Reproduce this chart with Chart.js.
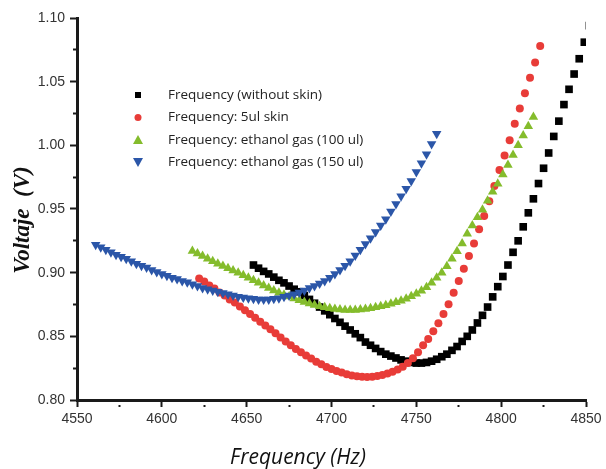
<!DOCTYPE html>
<html>
<head>
<meta charset="utf-8">
<script src="https://cdn.jsdelivr.net/npm/chart.js@4.4.0/dist/chart.umd.min.js"></script>
<style>
  html, body { margin: 0; padding: 0; background: #fff; }
  canvas { display: block; }
</style>
</head>
<body>
<canvas id="chart" width="606" height="469"></canvas>
<script>
// series (Hz, V)
const labels = [
  'Frequency (without skin)',
  'Frequency: 5ul skin',
  'Frequency: ethanol gas (100 ul)',
  'Frequency: ethanol gas (150 ul)'
];

const freqNoSkin = [4654,4657,4660,4663,4666,4669,4672,4675,4678,4681,4684,4687,4690,4693,4696,4699,4702,4705,4708,4711,4714,4717,4720,4723,4726,4729,4732,4735,4738,4741,4744,4747,4750,4753,4756,4759,4762,4765,4768,4771,4774,4777,4780,4783,4786,4789,4792,4795,4798,4801,4804,4807,4810,4813,4816,4819,4822,4825,4828,4831,4834,4837,4840,4843,4846,4849,4852];
const voltNoSkin = [0.906,0.9035,0.901,0.899,0.8965,0.894,0.892,0.8895,0.887,0.885,0.882,0.879,0.876,0.873,0.870,0.867,0.864,0.861,0.858,0.855,0.852,0.849,0.8455,0.843,0.8405,0.838,0.836,0.8345,0.833,0.8315,0.8305,0.8295,0.829,0.829,0.8295,0.8305,0.832,0.834,0.836,0.839,0.842,0.846,0.850,0.855,0.8605,0.8665,0.873,0.881,0.889,0.897,0.906,0.916,0.925,0.936,0.947,0.958,0.970,0.982,0.994,1.007,1.019,1.032,1.044,1.056,1.068,1.081,1.094];

const freqSkin = [4622,4625,4628,4631,4634,4637,4640,4643,4646,4649,4652,4655,4658,4661,4664,4667,4670,4673,4676,4679,4682,4685,4688,4691,4694,4697,4700,4703,4706,4709,4712,4715,4718,4721,4724,4727,4730,4733,4736,4739,4742,4745,4748,4751,4754,4757,4760,4763,4766,4769,4772,4775,4778,4781,4784,4787,4790,4793,4796,4799,4802,4805,4808,4811,4814,4817,4820,4823];
const voltSkin = [0.8955,0.893,0.890,0.8875,0.8845,0.882,0.879,0.8765,0.8735,0.8705,0.8675,0.8645,0.8615,0.8585,0.8555,0.8525,0.849,0.846,0.843,0.840,0.8375,0.835,0.8325,0.830,0.828,0.826,0.8243,0.8228,0.8215,0.8203,0.8193,0.8186,0.8182,0.8181,0.8183,0.8188,0.8197,0.8208,0.8222,0.824,0.8262,0.829,0.8328,0.8375,0.843,0.848,0.854,0.8603,0.8676,0.8752,0.8842,0.8935,0.903,0.913,0.923,0.934,0.9445,0.956,0.968,0.9806,0.992,1.004,1.017,1.029,1.041,1.053,1.065,1.078];

const freqGas100 = [4618,4621,4624,4627,4630,4633,4636,4639,4642,4645,4648,4651,4654,4657,4660,4663,4666,4669,4672,4675,4678,4681,4684,4687,4690,4693,4696,4699,4702,4705,4708,4711,4714,4717,4720,4723,4726,4729,4732,4735,4738,4741,4744,4747,4750,4753,4756,4759,4762,4765,4768,4771,4774,4777,4780,4783,4786,4789,4792,4795,4798,4801,4804,4807,4810,4813,4816,4819];
const voltGas100 = [0.917,0.915,0.913,0.911,0.909,0.907,0.9052,0.9035,0.9017,0.900,0.898,0.896,0.894,0.892,0.890,0.888,0.886,0.8843,0.8827,0.8812,0.8797,0.8783,0.877,0.8758,0.8747,0.8737,0.8728,0.872,0.8714,0.871,0.8707,0.8706,0.8707,0.871,0.8715,0.8721,0.8728,0.8736,0.8745,0.8755,0.8768,0.878,0.8795,0.8815,0.8835,0.8858,0.8885,0.892,0.896,0.900,0.905,0.911,0.9168,0.923,0.9305,0.937,0.9435,0.9495,0.9565,0.9635,0.9698,0.977,0.9845,0.9925,1.000,1.0078,1.015,1.0222];

const freqGas150 = [4561,4564,4567,4570,4573,4576,4579,4582,4585,4588,4591,4594,4597,4600,4603,4606,4609,4612,4615,4618,4621,4624,4627,4630,4633,4636,4639,4642,4645,4648,4651,4654,4657,4660,4663,4666,4669,4672,4675,4678,4681,4684,4687,4690,4693,4696,4699,4702,4705,4708,4711,4714,4717,4720,4723,4726,4729,4732,4735,4738,4741,4744,4747,4750,4753,4756,4759,4762];
const voltGas150 = [0.922,0.920,0.918,0.916,0.914,0.9125,0.911,0.909,0.907,0.9055,0.904,0.902,0.9005,0.899,0.8975,0.896,0.895,0.8935,0.8925,0.891,0.8895,0.888,0.887,0.886,0.885,0.884,0.883,0.882,0.881,0.8805,0.880,0.8795,0.879,0.879,0.879,0.8795,0.880,0.881,0.882,0.883,0.8845,0.886,0.888,0.8895,0.8915,0.8935,0.896,0.899,0.902,0.9055,0.909,0.9135,0.918,0.9225,0.927,0.932,0.937,0.942,0.948,0.954,0.960,0.966,0.972,0.979,0.986,0.993,1.001,1.009];

const colors = ['#000000', '#e83c38', '#84bc2c', '#2b56a8'];

function toPoints(xs, ys) {
  return xs.map((x, i) => ({ x: x, y: ys[i] }));
}

// marker shapes for legend
function marker(ctx, kind, x, y, color) {
  ctx.fillStyle = color;
  ctx.beginPath();
  if (kind === 'rect') {
    ctx.rect(x - 3, y - 3, 6, 6);
  } else if (kind === 'circle') {
    ctx.arc(x, y, 3.5, 0, Math.PI * 2);
  } else if (kind === 'up') {
    ctx.moveTo(x, y - 5); ctx.lineTo(x + 5, y + 4); ctx.lineTo(x - 5, y + 4);
  } else {
    ctx.moveTo(x, y + 5); ctx.lineTo(x + 5, y - 4); ctx.lineTo(x - 5, y - 4);
  }
  ctx.closePath();
  ctx.fill();
}

const extras = {
  id: 'extras',
  afterDraw(chart) {
    const ctx = chart.ctx;
    ctx.save();
    // legend
    const kinds = ['rect', 'circle', 'up', 'down'];
    const rowsY = [95, 117.5, 140, 162];
    ctx.font = '13.5px "Open Sans"';
    ctx.textBaseline = 'middle';
    ctx.textAlign = 'left';
    labels.forEach((t, i) => {
      marker(ctx, kinds[i], 138, rowsY[i], colors[i]);
      ctx.fillStyle = '#222';
      ctx.fillText(t, 168, rowsY[i]);
    });
    // x title
    ctx.font = 'italic 21px "Open Sans"';
    ctx.fillStyle = '#111';
    ctx.textAlign = 'center';
    ctx.textBaseline = 'alphabetic';
    ctx.fillText('Frequency (Hz)', 298, 464);
    // y title
    ctx.translate(29, 220);
    ctx.rotate(-Math.PI / 2);
    ctx.font = 'italic bold 23px "Liberation Serif"';
    ctx.fillText('Voltaje  (V)', 0, 0);
    ctx.restore();
  }
};

const tickFont = { family: '"Liberation Sans", Arial', size: 14 };
const axisColor = '#1a1a1a';

new Chart(document.getElementById('chart'), {
  type: 'scatter',
  data: {
    datasets: [
      { label: labels[0], data: toPoints(freqNoSkin, voltNoSkin), pointStyle: 'rect', pointRadius: 5.4, backgroundColor: colors[0], borderWidth: 0, order: 3 },
      { label: labels[1], data: toPoints(freqSkin, voltSkin), pointStyle: 'circle', pointRadius: 4, backgroundColor: colors[1], borderWidth: 0, order: 2 },
      { label: labels[2], data: toPoints(freqGas100, voltGas100), pointStyle: 'triangle', pointRadius: 5.5, backgroundColor: colors[2], borderWidth: 0, order: 1 },
      { label: labels[3], data: toPoints(freqGas150, voltGas150), pointStyle: 'triangle', rotation: 180, pointRadius: 5.5, backgroundColor: colors[3], borderWidth: 0, order: 0 }
    ]
  },
  options: {
    responsive: false,
    animation: false,
    devicePixelRatio: 1,
    layout: { padding: { left: 0, right: 20, top: 18, bottom: 0 } },
    plugins: { legend: { display: false }, tooltip: { enabled: false } },
    scales: {
      x: {
        type: 'linear',
        min: 4550, max: 4850,
        afterFit: s => { s.height = 69; },
        ticks: {
          stepSize: 25, autoSkip: false, maxRotation: 0, padding: 4,
          color: '#333', font: tickFont,
          callback: (v, i) => (i % 2 ? '' : String(v))
        },
        grid: {
          drawOnChartArea: false, color: axisColor, tickLength: 7, tickWidth: 2, tickColor: axisColor,
          tickBorderDash: c => (c.index % 2 ? [0, 3, 4, 50] : [])
        },
        border: { display: true, color: axisColor, width: 3 }
      },
      y: {
        type: 'linear',
        min: 0.80, max: 1.10,
        afterFit: s => { s.width = 77; },
        ticks: {
          stepSize: 0.025, autoSkip: false, padding: 5,
          color: '#333', font: tickFont,
          callback: (v, i) => (i % 2 ? '' : v.toFixed(2))
        },
        grid: {
          drawOnChartArea: false, color: axisColor, tickLength: 7, tickWidth: 2, tickColor: axisColor,
          tickBorderDash: c => (c.index % 2 ? [0, 3, 4, 50] : [])
        },
        border: { display: true, color: axisColor, width: 3 }
      }
    }
  },
  plugins: [extras]
});
</script>
</body>
</html>
